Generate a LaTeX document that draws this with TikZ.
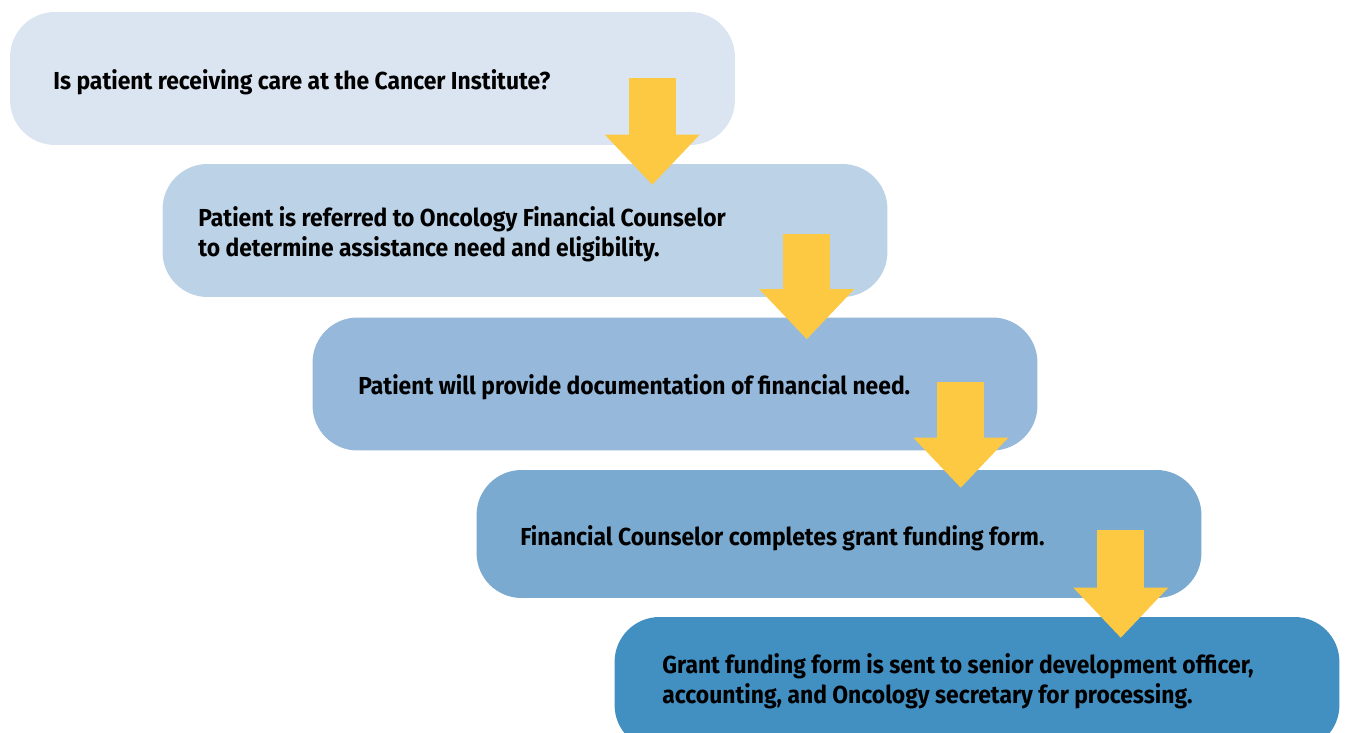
\documentclass[tikz,border=0pt]{standalone}
\usepackage{fontspec}
\setmainfont{Fira Sans}[FakeStretch=0.93]
\usetikzlibrary{arrows.meta,calc}

\definecolor{stepone}{HTML}{DBE5F1}
\definecolor{steptwo}{HTML}{BCD2E7}
\definecolor{stepthree}{HTML}{95B8DB}
\definecolor{stepfour}{HTML}{7AAAD0}
\definecolor{stepfive}{HTML}{428FC2}
\definecolor{flowyellow}{HTML}{FDC943}

\tikzset{
    stepbox/.style={rectangle, rounded corners=0.9cm, inner sep=0pt,
        minimum width=14.5cm, minimum height=2.66cm},
    steptext/.style={anchor=west, inner sep=0pt, align=left,
        font=\fontsize{14}{17}\selectfont\bfseries},
    flow/.style={draw=flowyellow, line width=0.94cm,
        -{Triangle[width=1.9cm, length=1cm, line width=0pt]}}
}

\begin{document}
\begin{tikzpicture}[x=0.02cm, y=-0.02cm]
            \clip (0,0) rectangle (1347,733);
            \useasboundingbox (0,0) rectangle (1347,733);

            \node[stepbox, fill=stepone] (b_1) at (372.5,78.5) {};
            \node[stepbox, fill=steptwo] (b_2) at (525,230.5) {};
            \node[stepbox, fill=stepthree] (b_3) at (675,384) {};
            \node[stepbox, fill=stepfour, minimum height=2.56cm] (b_4) at (839,534) {};
            \node[stepbox, fill=stepfive] (b_5) at (977,683.5) {};

            \node[steptext] (t_1) at (53,82) {Is patient receiving care at the Cancer Institute?};
            \node[steptext] (t_2) at (198,234) {Patient is referred to Oncology Financial Counselor\\to determine assistance need and eligibility.};
            \node[steptext] (t_3) at (358,387) {Patient will provide documentation of financial need.};
            \node[steptext] (t_4) at (520,538) {Financial Counselor completes grant funding form.};
            \node[steptext] (t_5) at (662,681) {Grant funding form is sent to senior development officer,\\accounting, and Oncology secretary for processing.};

            \draw[flow] ($(b_1.east)+(-83,0)$) -- ($(b_1.east |- b_2.north)+(-83,21)$);
            \draw[flow] ($(b_2.east)+(-81,4)$) -- ($(b_2.east |- b_3.north)+(-81,22)$);
            \draw[flow] ($(b_3.east)+(-77,-2)$) -- ($(b_3.east |- b_4.north)+(-77,18)$);
            \draw[flow] ($(b_4.east)+(-81,-4)$) -- ($(b_4.east |- b_5.north)+(-81,21)$);
\end{tikzpicture}
\end{document}
